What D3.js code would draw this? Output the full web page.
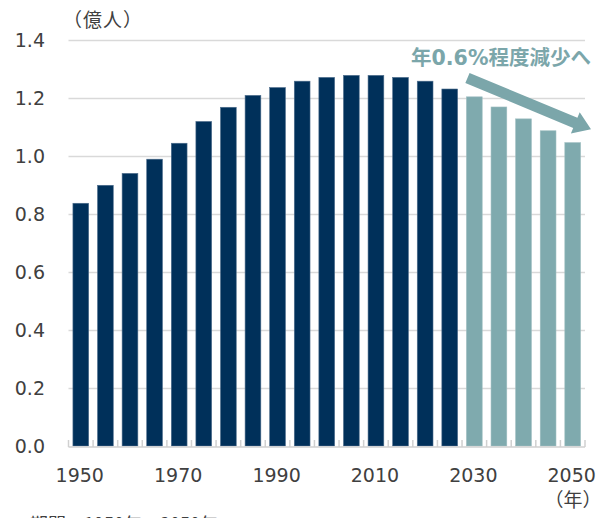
<!DOCTYPE html>
<html>
<head>
<meta charset="utf-8">
<script src="https://cdn.jsdelivr.net/npm/d3@7"></script>
<style>
  body { margin: 0; background: #fff; }
  svg { display: block; font-family: "DejaVu Sans", "Noto Sans CJK JP", sans-serif; }
</style>
</head>
<body>
<div id="chart"></div>
<script>
// population of Japan, 100 million people
const years = [1950, 1955, 1960, 1965, 1970, 1975, 1980, 1985, 1990, 1995, 2000,
               2005, 2010, 2015, 2020, 2025, 2030, 2035, 2040, 2045, 2050];
const population = [0.837, 0.899, 0.940, 0.989, 1.044, 1.119, 1.168, 1.209, 1.236, 1.258, 1.271,
                    1.278, 1.278, 1.271, 1.258, 1.231, 1.204, 1.169, 1.128, 1.087, 1.046];
const firstForecastYear = 2030;
const yTicks = [0, 0.2, 0.4, 0.6, 0.8, 1.0, 1.2, 1.4];
const xLabelYears = [1950, 1970, 1990, 2010, 2030, 2050];
const unitLabel = "（億人）";
const yearUnit = "（年）";
const note = "年0.6%程度減少へ";
const footnote = "期間：1950年～2050年";

var width = 614;
var height = 518;

var svg = d3.select("#chart")
    .append("svg")
    .attr("width", width)
    .attr("height", height);

const x = d3.scaleBand()
    .domain(years)
    .range([68.5, 585])
    .paddingInner(0.36)
    .paddingOuter(0.18);

const y = d3.scaleLinear()
    .domain([0, 1.4])
    .range([446, 40]);

// gridlines
svg.append("g")
    .selectAll("line")
    .data(yTicks.filter(d => d > 0))
    .join("line")
    .attr("x1", 68.5)
    .attr("x2", 585)
    .attr("y1", d => y(d) + 0.5)
    .attr("y2", d => y(d) + 0.5)
    .attr("stroke", "#d9d9d9")
    .attr("stroke-width", 1.5);

// y axis labels
svg.append("g")
    .attr("transform", "translate(45,0)")
    .call(d3.axisLeft(y).tickValues(yTicks).tickFormat(d3.format(".1f")).tickSize(0))
    .call(g => g.select(".domain").remove())
    .call(g => g.selectAll("text")
        .attr("x", 0)
        .attr("dy", "0.36em")
        .attr("fill", "#404040")
        .style("font-size", "19px")
        .style("font-family", "DejaVu Sans, sans-serif"));

// bars
svg.append("g")
    .selectAll("rect")
    .data(years)
    .join("rect")
    .attr("x", d => x(d))
    .attr("width", x.bandwidth())
    .attr("y", (d, i) => y(population[i]))
    .attr("height", (d, i) => y(0) - y(population[i]))
    .attr("fill", d => d >= firstForecastYear ? "#7faaae" : "#00305a")
    .attr("stroke", d => d >= firstForecastYear ? "#9dbdc0" : "#4d6d8c")
    .attr("stroke-width", 0.6);

// x axis line and ticks between bars
const step = x.step();
const axis = svg.append("g");
axis.append("line")
    .attr("x1", 68.5)
    .attr("x2", 585)
    .attr("y1", y(0) + 1)
    .attr("y2", y(0) + 1)
    .attr("stroke", "#d0d0d0")
    .attr("stroke-width", 1.5);
axis.selectAll(".tick")
    .data(years.concat([null]))
    .join("line")
    .attr("class", "tick")
    .attr("x1", (d, i) => 68.5 + i * step)
    .attr("x2", (d, i) => 68.5 + i * step)
    .attr("y1", y(0) - 6)
    .attr("y2", y(0) + 1)
    .attr("stroke", "#d0d0d0")
    .attr("stroke-width", 1.5);

axis.selectAll(".xl")
    .data(xLabelYears)
    .join("text")
    .attr("class", "xl")
    .attr("x", d => x(d) + x.bandwidth() / 2 - 1)
    .attr("y", 482)
    .attr("text-anchor", "middle")
    .attr("fill", "#404040")
    .style("font-size", "19px")
    .text(d => d);

svg.append("text")
    .attr("x", 573)
    .attr("y", 507)
    .attr("text-anchor", "middle")
    .attr("fill", "#404040")
    .style("font-size", "19px")
    .style("font-family", "Noto Sans CJK JP")
    .text(yearUnit);

svg.append("text")
    .attr("x", 63)
    .attr("y", 27)
    .attr("fill", "#404040")
    .style("font-size", "19px")
    .style("letter-spacing", "1px")
    .style("font-family", "Noto Sans CJK JP")
    .text(unitLabel);

// annotation
svg.append("text")
    .attr("x", 501)
    .attr("y", 65)
    .attr("text-anchor", "middle")
    .attr("fill", "#7ba6aa")
    .style("font-size", "20.5px")
    .style("font-weight", "bold")
    .text(note);

// arrow from the 2030 bar toward the plot's right edge
const ax0 = x(2030) + 1, ay0 = y(1.269);
const ax1 = 591, ay1 = y(1.092);
const ang = Math.atan2(ay1 - ay0, ax1 - ax0);
const len = Math.hypot(ax1 - ax0, ay1 - ay0);
const shaft = 5.5, headLen = 17, headW = 11.5;
const arrowPts = [
    [0, -shaft], [len - headLen, -shaft], [len - headLen, -headW],
    [len, 0], [len - headLen, headW], [len - headLen, shaft], [0, shaft]
];
svg.append("polygon")
    .attr("points", arrowPts.map(p => p.join(",")).join(" "))
    .attr("transform", `translate(${ax0},${ay0}) rotate(${ang * 180 / Math.PI})`)
    .attr("fill", "#7ba6aa");

svg.append("text")
    .attr("x", 30)
    .attr("y", 531)
    .attr("fill", "#404040")
    .style("font-size", "18px")
    .style("font-family", "Noto Sans CJK JP")
    .text(footnote);
</script>
</body>
</html>
